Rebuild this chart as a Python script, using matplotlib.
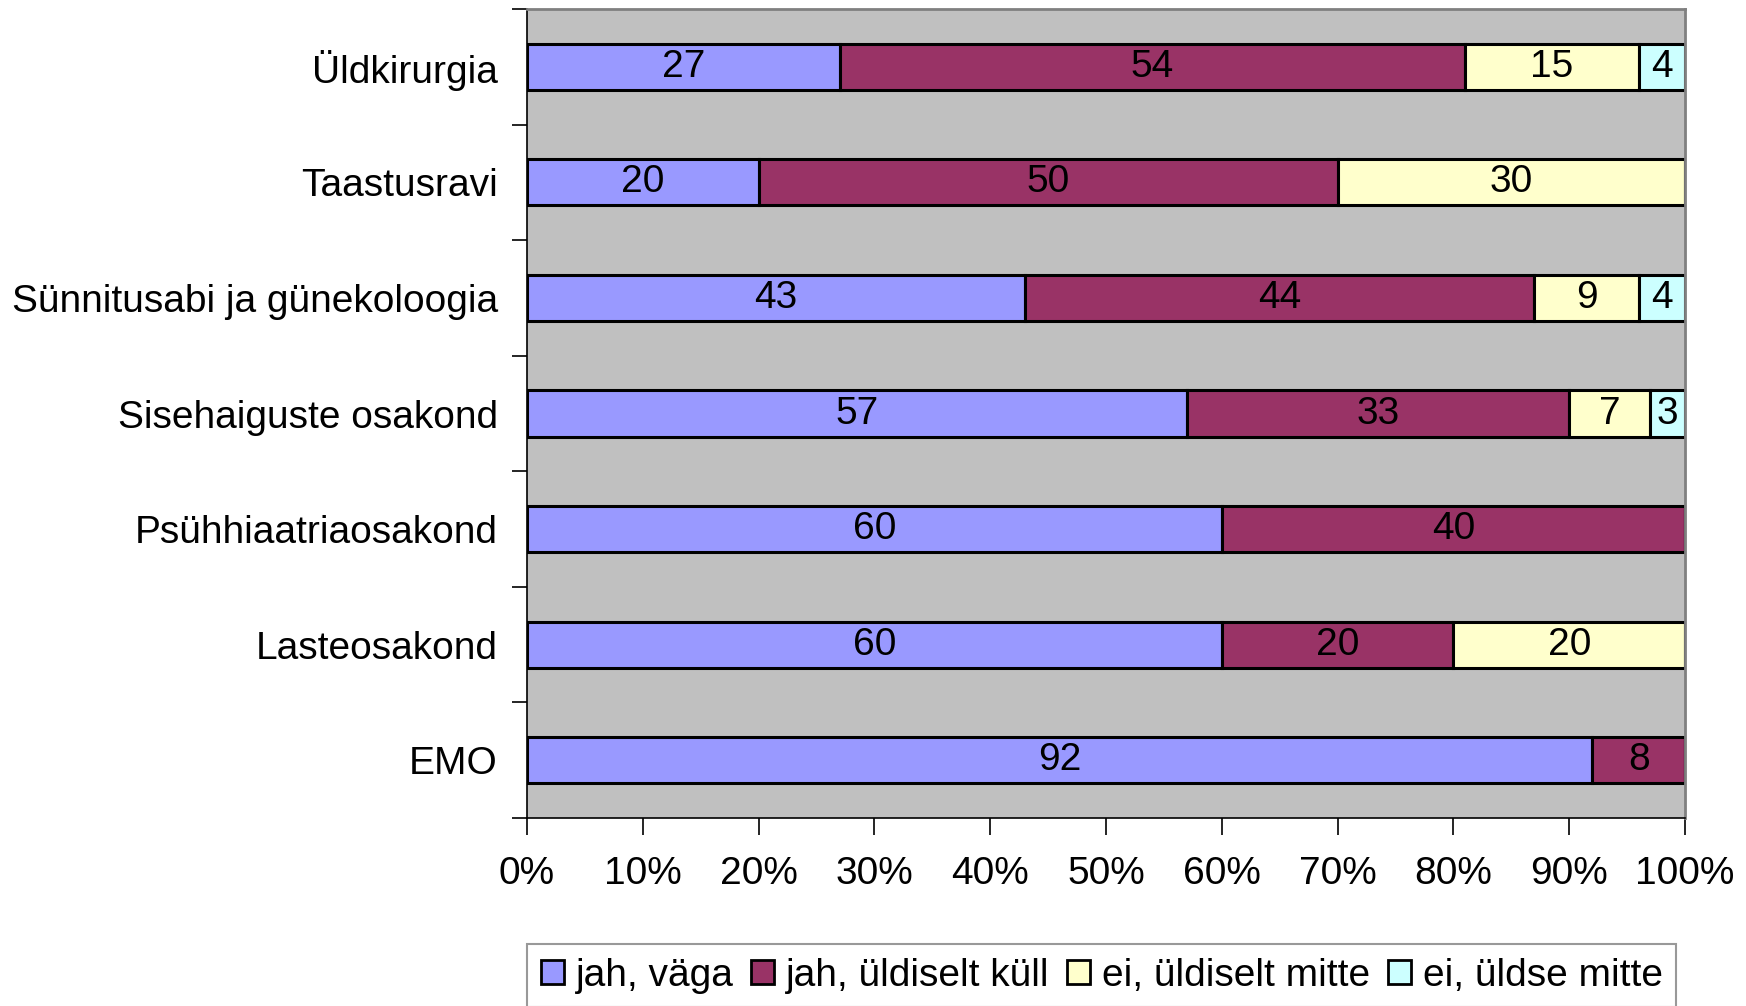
import numpy as np
import matplotlib
matplotlib.use("Agg")
import matplotlib.pyplot as plt
from matplotlib.patches import Patch

plt.rcParams['font.family'] = ['Liberation Sans', 'DejaVu Sans']

categories = ["Üldkirurgia", "Taastusravi", "Sünnitusabi ja günekoloogia",
              "Sisehaiguste osakond", "Psühhiaatriaosakond", "Lasteosakond", "EMO"]
series_names = ["jah, väga", "jah, üldiselt küll", "ei, üldiselt mitte", "ei, üldse mitte"]
jah_vaga = [27, 20, 43, 57, 60, 60, 92]
jah_kull = [54, 50, 44, 33, 40, 20, 8]
ei_mitte = [15, 30, 9, 7, 0, 20, 0]
ei_uldse = [4, 0, 4, 3, 0, 0, 0]
colors = ["#9999FF", "#993366", "#FFFFCC", "#CCFFFF"]

fs = 28

fig = plt.figure(figsize=(17.46, 10.06), dpi=100)
ax = fig.add_axes([527/1746, 1-818/1006, (1685-527)/1746, (818-9)/1006])
ax.set_facecolor("#C0C0C0")

y = np.arange(len(categories))
left = np.zeros(len(categories))
for vals, name, c in zip([jah_vaga, jah_kull, ei_mitte, ei_uldse], series_names, colors):
    vals = np.array(vals, dtype=float)
    ax.barh(y, vals, left=left, height=0.4, color=c, edgecolor="black", linewidth=2.2, label=name)
    for yi, l, v in zip(y, left, vals):
        if v > 0:
            ax.text(l + v/2, yi, str(int(v)), ha="center", va="center", fontsize=fs, color="black")
    left += vals

ax.set_xlim(0, 100)
ax.set_ylim(len(categories) - 0.5, -0.5)
ax.set_xticks(np.arange(0, 101, 10))
ax.set_xticklabels([f"{t}%" for t in range(0, 101, 10)], fontsize=fs)
ax.set_yticks(y)
ax.set_yticklabels(categories, fontsize=fs)
ax.set_yticks(np.arange(-0.5, len(categories), 1), minor=True)
ax.tick_params(axis="y", which="major", length=0, pad=21)
ax.tick_params(axis="y", which="minor", length=11, width=1.2, color="black")
ax.tick_params(axis="x", length=12, width=1.2, color="black", pad=15)
for s in ["top", "right"]:
    ax.spines[s].set_color("#808080")
    ax.spines[s].set_linewidth(2)
for s in ["left", "bottom"]:
    ax.spines[s].set_color("black")
    ax.spines[s].set_linewidth(1.2)

handles = [Patch(facecolor=c, edgecolor="black", linewidth=2) for c in colors]
leg = fig.legend(handles, series_names, loc="upper left",
                 bbox_to_anchor=(527/1746, 1-944/1006), ncol=4, fontsize=fs,
                 frameon=True, fancybox=False, handlelength=0.6, handleheight=0.6,
                 handletextpad=0.3, columnspacing=0.45, borderpad=0.35, borderaxespad=0)
leg.get_frame().set_edgecolor("#808080")
leg.get_frame().set_linewidth(1.5)

fig.savefig("out.png", dpi=100)
